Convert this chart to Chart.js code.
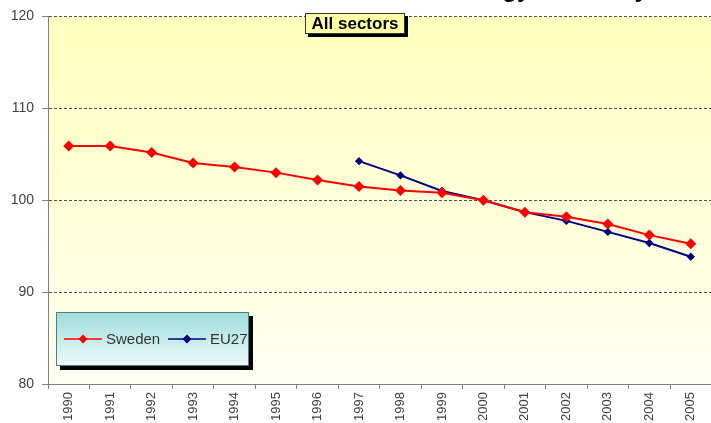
<!DOCTYPE html>
<html>
<head>
<meta charset="utf-8">
<script src="https://cdn.jsdelivr.net/npm/chart.js@4/dist/chart.umd.min.js"></script>
<style>
  html, body { margin: 0; padding: 0; background: #ffffff; overflow: hidden; width: 711px; height: 423px; }
  canvas { display: block; }
</style>
</head>
<body>
<canvas id="c" width="717" height="423"></canvas>
<script>
const years = ['1990','1991','1992','1993','1994','1995','1996','1997','1998','1999','2000','2001','2002','2003','2004','2005'];
const sweden = [105.9, 105.9, 105.2, 104.05, 103.6, 103.0, 102.2, 101.5, 101.05, 100.8, 100.0, 98.7, 98.2, 97.4, 96.2, 95.25];
const eu27 = [null, null, null, null, null, null, null, 104.25, 102.7, 101.0, 100.0, 98.7, 97.75, 96.55, 95.35, 93.85];
const yTicks = [80, 90, 100, 110, 120];
const boxTitle = 'All sectors';
const pageTitle = 'Energy efficiency';
const seriesNames = ['Sweden', 'EU27'];

const bgPlugin = {
  id: 'bg',
  beforeDraw(chart) {
    const { ctx, chartArea: a } = chart;
    const g = ctx.createLinearGradient(0, a.top, 0, a.bottom);
    g.addColorStop(0, 'rgb(255,255,190)');
    g.addColorStop(1, 'rgb(255,255,242)');
    ctx.save();
    ctx.fillStyle = g;
    ctx.fillRect(a.left, a.top, a.right - a.left, a.bottom - a.top);
    ctx.restore();
  }
};

const overlayPlugin = {
  id: 'overlay',
  afterDraw(chart) {
    const ctx = chart.ctx;
    ctx.save();
    // cut-off page title at the very top
    ctx.fillStyle = '#000';
    ctx.font = 'bold 24px "Liberation Sans", Arial, sans-serif';
    ctx.textAlign = 'left';
    ctx.textBaseline = 'alphabetic';
    ctx.fillText(pageTitle, 449, -3.5);

    // title box
    const bx = 305, by = 13, bw = 100, bh = 21;
    ctx.fillStyle = '#000';
    ctx.fillRect(bx + 3, by + 3, bw, bh);
    ctx.fillStyle = '#ffffa6';
    ctx.fillRect(bx, by, bw, bh);
    ctx.strokeStyle = '#333';
    ctx.lineWidth = 1;
    ctx.strokeRect(bx + 0.5, by + 0.5, bw - 1, bh - 1);
    ctx.fillStyle = '#000';
    ctx.font = 'bold 17px "Liberation Sans", Arial, sans-serif';
    ctx.textAlign = 'center';
    ctx.textBaseline = 'middle';
    ctx.fillText(boxTitle, bx + bw / 2, by + bh / 2 + 1);

    // legend box
    const lx = 56, ly = 312, lw = 193, lh = 54;
    ctx.fillStyle = '#000';
    ctx.fillRect(lx + 4, ly + 4, lw, lh);
    const lg = ctx.createLinearGradient(0, ly, 0, ly + lh);
    lg.addColorStop(0, '#9cdcdc');
    lg.addColorStop(1, '#eefafa');
    ctx.fillStyle = lg;
    ctx.fillRect(lx, ly, lw, lh);
    ctx.strokeStyle = '#4f7f7f';
    ctx.strokeRect(lx + 0.5, ly + 0.5, lw - 1, lh - 1);

    const items = chart.data.datasets;
    const starts = [64, 168];
    ctx.font = '15px "Liberation Sans", Arial, sans-serif';
    ctx.textAlign = 'left';
    ctx.textBaseline = 'middle';
    const cy = 339;
    items.forEach((ds, i) => {
      const x0 = starts[i];
      ctx.strokeStyle = ds.borderColor;
      ctx.lineWidth = 1.5;
      ctx.beginPath();
      ctx.moveTo(x0, cy);
      ctx.lineTo(x0 + 38, cy);
      ctx.stroke();
      ctx.fillStyle = ds.borderColor;
      const r = 4.5;
      ctx.beginPath();
      ctx.moveTo(x0 + 19, cy - r);
      ctx.lineTo(x0 + 19 + r, cy);
      ctx.lineTo(x0 + 19, cy + r);
      ctx.lineTo(x0 + 19 - r, cy);
      ctx.closePath();
      ctx.fill();
      ctx.fillStyle = '#333';
      ctx.fillText(ds.label, x0 + 42, cy + 1);
    });
    ctx.restore();
  }
};

new Chart(document.getElementById('c'), {
  type: 'line',
  data: {
    labels: years,
    datasets: [
      {
        label: seriesNames[0],
        data: sweden,
        borderColor: '#ff0000',
        backgroundColor: '#ff0000',
        borderWidth: 2,
        pointStyle: 'rectRot',
        pointRadius: 5.5,
        pointBorderWidth: 0,
        tension: 0
      },
      {
        label: seriesNames[1],
        data: eu27,
        borderColor: '#000080',
        backgroundColor: '#000080',
        borderWidth: 2,
        pointStyle: 'rectRot',
        pointRadius: 4.2,
        pointBorderWidth: 0,
        tension: 0
      }
    ]
  },
  options: {
    responsive: false,
    animation: false,
    devicePixelRatio: 1,
    layout: { padding: { top: 16, right: 0, left: 0, bottom: 0 } },
    plugins: { legend: { display: false }, title: { display: false }, tooltip: { enabled: false } },
    scales: {
      x: {
        type: 'category',
        offset: true,
        grid: {
          offset: true,
          drawOnChartArea: false,
          drawTicks: true,
          tickLength: 5,
          tickColor: '#808080',
          tickBorderDash: []
        },
        border: { display: true, color: '#808080', width: 1 },
        ticks: {
          minRotation: 90,
          maxRotation: 90,
          autoSkip: false,
          padding: 3,
          color: '#404040',
          font: { family: '"Liberation Sans", Arial, sans-serif', size: 13 }
        },
        afterFit(scale) { scale.height = 39; scale.paddingLeft = 0; scale.paddingRight = 0; }
      },
      y: {
        min: 80,
        max: 120,
        afterBuildTicks(scale) { scale.ticks = yTicks.map(v => ({ value: v })); },
        grid: {
          color: (c) => (c.tick && c.tick.value === 80) ? 'rgba(0,0,0,0)' : '#505050',
          lineWidth: 1,
          tickBorderDash: [],
          tickLength: 6,
          tickColor: '#808080'
        },
        border: { display: true, color: '#808080', width: 1, dash: [3, 2] },
        ticks: {
          padding: 8,
          color: '#404040',
          font: { family: '"Liberation Sans", Arial, sans-serif', size: 14 }
        },
        afterFit(scale) { scale.width = 48; }
      }
    }
  },
  plugins: [bgPlugin, overlayPlugin]
});
</script>
</body>
</html>
